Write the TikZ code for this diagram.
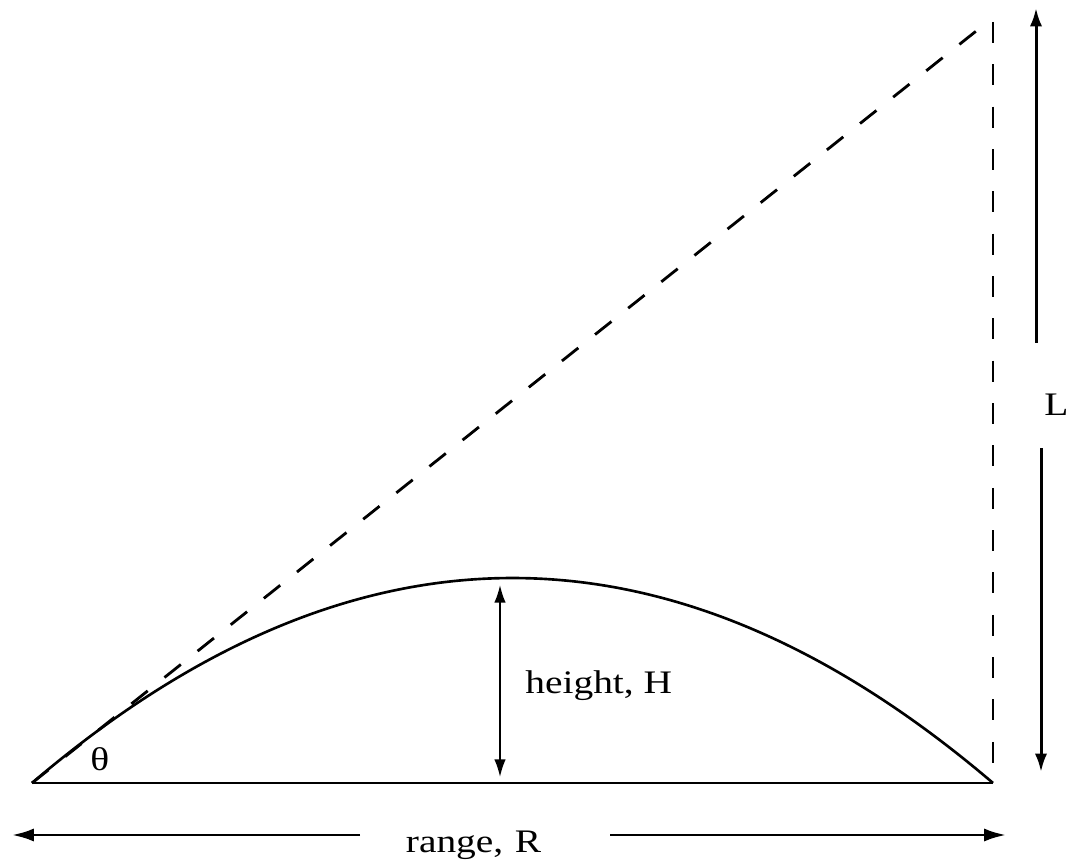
\documentclass[tikz,border=0pt]{standalone}
\usepackage{fontspec}
\setmainfont{Liberation Serif}
\newfontfamily\lblfont[FakeStretch=1.2]{Liberation Serif}
\usetikzlibrary{arrows.meta}
\tikzset{
  dimline/.style={line width=1.7pt},
  bigtip/.style={-{Latex[length=12.5pt,width=7.5pt]}},
  midtip/.style={-{Latex[length=10.5pt,width=7pt]}},
  guide/.style={line width=1.6pt, dash pattern=on 11.9pt off 12.2pt},
  lbl/.style={font=\lblfont\fontsize{18.7}{22}\selectfont, inner sep=0pt, anchor=base west}
}
\begin{document}
\begin{tikzpicture}[x=0.02cm, y=-0.02cm]
\useasboundingbox (0,0) rectangle (1068,861);
% trajectory, ground and guide lines
\coordinate (O) at (32,783);
\coordinate (E) at (993,783);
\coordinate (T) at (993,22);
\coordinate (P) at (985,24);
\draw[line width=1.5pt] (O) -- (E);
\draw[line width=1.5pt] (O) .. controls (352.3,509.7) and (672.7,509.7) .. (E);
\draw[guide] (O) -- (P);
\draw[guide] (T) -- (E);
\coordinate (Ht) at (500,585);
\coordinate (Hb) at (500,777);
\draw[line width=1pt, {Latex[length=10pt,width=6.5pt]}-{Latex[length=10pt,width=6.5pt]}] (Ht) -- (Hb);
\node[lbl] (hlabel) at (525,693) {height, H};
\node[lbl] (theta) at (90,770) {θ};
% L
\coordinate (La) at (1036,343);
\coordinate (Lt) at (1036,8);
\coordinate (Lb) at (1041,448);
\coordinate (Ld) at (1041,772);
\draw[dimline, midtip] (La) -- (Lt);
\draw[dimline, midtip] (Lb) -- (Ld);
\node[lbl] (llabel) at (1044,416) {L};
% range
\coordinate (Ra) at (360,835);
\coordinate (Rl) at (12,835);
\coordinate (Rb) at (610,835);
\coordinate (Rr) at (1006,835);
\draw[dimline, bigtip] (Ra) -- (Rl);
\draw[dimline, bigtip] (Rb) -- (Rr);
\node[lbl, anchor=base] (rlabel) at (473.5,852) {range,\hspace{0.35em}R};
\end{tikzpicture}
\end{document}
